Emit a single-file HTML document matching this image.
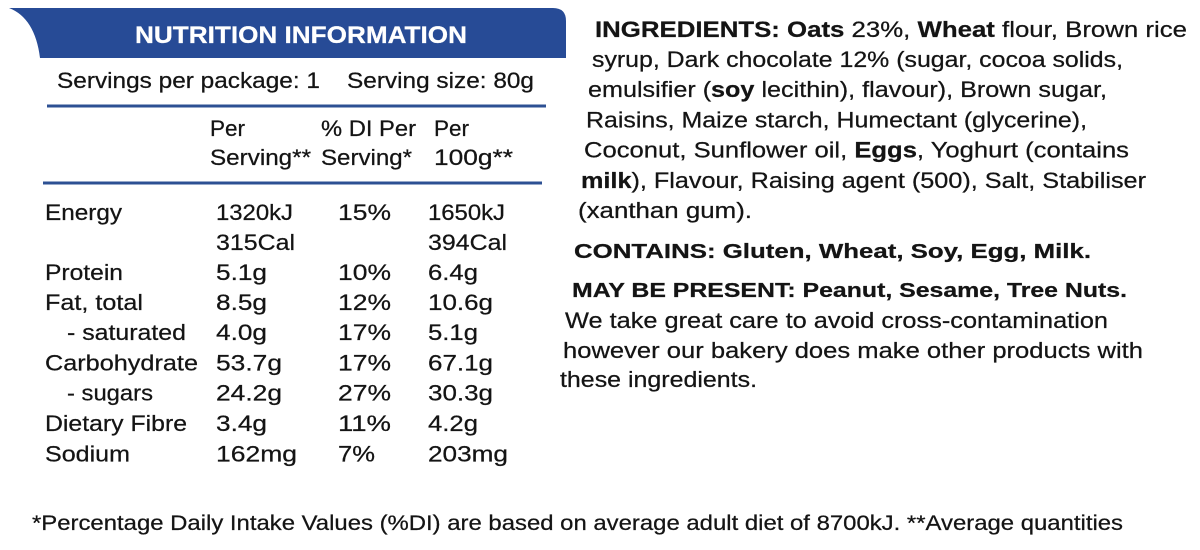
<!DOCTYPE html>
<html>
<head>
<meta charset="utf-8">
<style>
  html, body { margin:0; padding:0; background:#ffffff; }
  body { width:1200px; height:550px; overflow:hidden; }
  svg { display:block; }
  text { font-family: "Liberation Sans", Arial, sans-serif; fill:#141414; stroke:#141414; stroke-width:0.25px; }
  .b { font-weight:bold; }
</style>
</head>
<body>
<svg width="1200" height="550" viewBox="0 0 1200 550" xmlns="http://www.w3.org/2000/svg">
  <!-- Header band -->
  <path d="M9,8 L553,8 Q566,8 566,21 L566,58 L40,58 Q35,18 9,8 Z" fill="#274b96"/>
  <text x="135" y="43" font-size="24" class="b" style="fill:#ffffff;stroke:#ffffff" textLength="332" lengthAdjust="spacingAndGlyphs">NUTRITION INFORMATION</text>

  <!-- Servings line -->
  <text x="57" y="88" font-size="22" textLength="263" lengthAdjust="spacingAndGlyphs">Servings per package: 1</text>
  <text x="347" y="88" font-size="22" textLength="187" lengthAdjust="spacingAndGlyphs">Serving size: 80g</text>
  <rect x="47" y="104.5" width="499" height="3" fill="#2d5093"/>

  <!-- Column headers -->
  <text x="210" y="136" font-size="22" textLength="35" lengthAdjust="spacingAndGlyphs">Per</text>
  <text x="210" y="165" font-size="22" textLength="101" lengthAdjust="spacingAndGlyphs">Serving**</text>
  <text x="321" y="136" font-size="22" textLength="95" lengthAdjust="spacingAndGlyphs">% DI Per</text>
  <text x="321" y="165" font-size="22" textLength="91" lengthAdjust="spacingAndGlyphs">Serving*</text>
  <text x="434" y="136" font-size="22" textLength="35" lengthAdjust="spacingAndGlyphs">Per</text>
  <text x="434" y="165" font-size="22" textLength="79" lengthAdjust="spacingAndGlyphs">100g**</text>
  <rect x="43" y="181.5" width="499" height="3" fill="#2d5093"/>

  <!-- Rows -->
  <g font-size="22">
    <text x="45" y="220" textLength="77" lengthAdjust="spacingAndGlyphs">Energy</text>
    <text x="216" y="220" textLength="77" lengthAdjust="spacingAndGlyphs">1320kJ</text>
    <text x="338" y="220" textLength="53" lengthAdjust="spacingAndGlyphs">15%</text>
    <text x="428" y="220" textLength="77" lengthAdjust="spacingAndGlyphs">1650kJ</text>

    <text x="216" y="250" textLength="79" lengthAdjust="spacingAndGlyphs">315Cal</text>
    <text x="428" y="250" textLength="79" lengthAdjust="spacingAndGlyphs">394Cal</text>

    <text x="45" y="280" textLength="78" lengthAdjust="spacingAndGlyphs">Protein</text>
    <text x="216" y="280" textLength="51" lengthAdjust="spacingAndGlyphs">5.1g</text>
    <text x="338" y="280" textLength="53" lengthAdjust="spacingAndGlyphs">10%</text>
    <text x="428" y="280" textLength="50" lengthAdjust="spacingAndGlyphs">6.4g</text>

    <text x="45" y="310" textLength="98" lengthAdjust="spacingAndGlyphs">Fat, total</text>
    <text x="216" y="310" textLength="51" lengthAdjust="spacingAndGlyphs">8.5g</text>
    <text x="338" y="310" textLength="53" lengthAdjust="spacingAndGlyphs">12%</text>
    <text x="428" y="310" textLength="65" lengthAdjust="spacingAndGlyphs">10.6g</text>

    <text x="67" y="340" textLength="119" lengthAdjust="spacingAndGlyphs">- saturated</text>
    <text x="216" y="340" textLength="51" lengthAdjust="spacingAndGlyphs">4.0g</text>
    <text x="338" y="340" textLength="53" lengthAdjust="spacingAndGlyphs">17%</text>
    <text x="428" y="340" textLength="50" lengthAdjust="spacingAndGlyphs">5.1g</text>

    <text x="45" y="370.5" textLength="153" lengthAdjust="spacingAndGlyphs">Carbohydrate</text>
    <text x="216" y="370.5" textLength="66" lengthAdjust="spacingAndGlyphs">53.7g</text>
    <text x="338" y="370.5" textLength="53" lengthAdjust="spacingAndGlyphs">17%</text>
    <text x="428" y="370.5" textLength="65" lengthAdjust="spacingAndGlyphs">67.1g</text>

    <text x="67" y="400.5" textLength="86" lengthAdjust="spacingAndGlyphs">- sugars</text>
    <text x="216" y="400.5" textLength="66" lengthAdjust="spacingAndGlyphs">24.2g</text>
    <text x="338" y="400.5" textLength="53" lengthAdjust="spacingAndGlyphs">27%</text>
    <text x="428" y="400.5" textLength="65" lengthAdjust="spacingAndGlyphs">30.3g</text>

    <text x="45" y="431" textLength="142" lengthAdjust="spacingAndGlyphs">Dietary Fibre</text>
    <text x="216" y="431" textLength="51" lengthAdjust="spacingAndGlyphs">3.4g</text>
    <text x="338" y="431" textLength="53" lengthAdjust="spacingAndGlyphs">11%</text>
    <text x="428" y="431" textLength="50" lengthAdjust="spacingAndGlyphs">4.2g</text>

    <text x="45" y="461.5" textLength="85" lengthAdjust="spacingAndGlyphs">Sodium</text>
    <text x="216" y="461.5" textLength="81" lengthAdjust="spacingAndGlyphs">162mg</text>
    <text x="338" y="461.5" textLength="37" lengthAdjust="spacingAndGlyphs">7%</text>
    <text x="428" y="461.5" textLength="80" lengthAdjust="spacingAndGlyphs">203mg</text>
  </g>

  <!-- Ingredients -->
  <g font-size="22">
    <text x="595" y="37" textLength="592" lengthAdjust="spacingAndGlyphs"><tspan class="b">INGREDIENTS: Oats</tspan> 23%, <tspan class="b">Wheat</tspan> flour, Brown rice</text>
    <text x="592" y="67" textLength="531" lengthAdjust="spacingAndGlyphs">syrup, Dark chocolate 12% (sugar, cocoa solids,</text>
    <text x="588" y="97" textLength="519" lengthAdjust="spacingAndGlyphs">emulsifier (<tspan class="b">soy</tspan> lecithin), flavour), Brown sugar,</text>
    <text x="586" y="127.5" textLength="501" lengthAdjust="spacingAndGlyphs">Raisins, Maize starch, Humectant (glycerine),</text>
    <text x="584" y="157.5" textLength="545" lengthAdjust="spacingAndGlyphs">Coconut, Sunflower oil, <tspan class="b">Eggs</tspan>, Yoghurt (contains</text>
    <text x="581" y="188" textLength="565" lengthAdjust="spacingAndGlyphs"><tspan class="b">milk</tspan>), Flavour, Raising agent (500), Salt, Stabiliser</text>
    <text x="578" y="218" textLength="174" lengthAdjust="spacingAndGlyphs">(xanthan gum).</text>

    <text x="574" y="258" font-size="20" class="b" textLength="517" lengthAdjust="spacingAndGlyphs">CONTAINS: Gluten, Wheat, Soy, Egg, Milk.</text>
    <text x="572" y="297" font-size="20" class="b" textLength="555" lengthAdjust="spacingAndGlyphs">MAY BE PRESENT: Peanut, Sesame, Tree Nuts.</text>

    <text x="565" y="328" textLength="543" lengthAdjust="spacingAndGlyphs">We take great care to avoid cross-contamination</text>
    <text x="563" y="358" textLength="580" lengthAdjust="spacingAndGlyphs">however our bakery does make other products with</text>
    <text x="560" y="387" textLength="197" lengthAdjust="spacingAndGlyphs">these ingredients.</text>
  </g>

  <!-- Footnote -->
  <text x="32" y="530" font-size="21" textLength="1091" lengthAdjust="spacingAndGlyphs">*Percentage Daily Intake Values (%DI) are based on average adult diet of 8700kJ. **Average quantities</text>
</svg>
</body>
</html>
